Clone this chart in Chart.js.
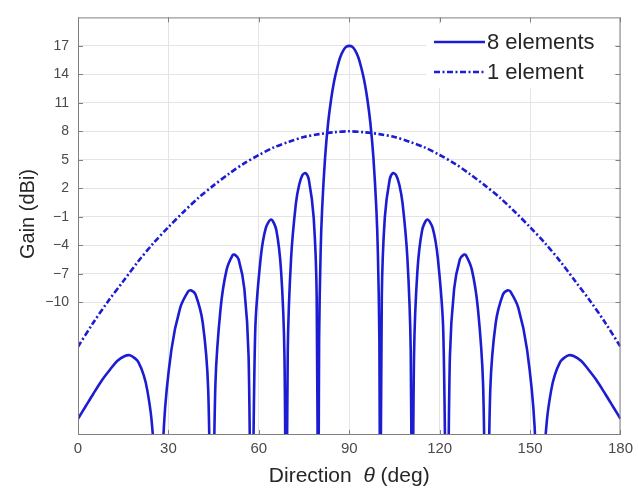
<!DOCTYPE html>
<html lang="en">
<head>
  <meta charset="UTF-8" />
  <title>Gain vs Direction</title>
  <script src="https://cdn.jsdelivr.net/npm/chart.js"></script>
  <style>
    html, body { margin: 0; padding: 0; background: #fff; }
    #wrap { width: 638px; height: 498px; }
  </style>
</head>
<body>
  <div id="wrap"><canvas id="gainChart" width="638" height="498"></canvas></div>

  <script>
    // 8 element array, direction in deg / gain in dBi.
    // nulls are put well under the axis floor (-40) so the trace runs off the bottom
    const angles8 = [
      0, 2.5, 5, 8, 10.9, 13, 15.4, 17.2, 18.8, 20, 21.8, 23, 24.4, 25.6, 26.8,
      28.5, 31, 33.9, 36.5, 37.4, 39, 41.4, 43.2, 44.4,
      45.6, 47.3, 49.3, 51.3, 52, 53.3, 55.2, 56.6, 57.6,
      58.8, 60.6, 62.3, 64.1, 65.8, 67.4, 68.5, 69.1,
      69.6, 70.7, 72.3, 73.4, 74.5, 75.5, 76.6, 78.2, 79.2, 79.7,
      80, 80.5, 81, 82, 83, 84, 85, 86, 87, 88, 89, 90,
      91, 92, 93, 94, 95, 96, 97, 98, 99, 99.5, 100,
      100.3, 100.8, 101.8, 103.4, 104.5, 105.5, 106.6, 107.7, 109.3, 110.4,
      110.9, 111.5, 112.6, 114.2, 115.9, 117.7, 119.4, 121.2,
      122.4, 123.4, 124.8, 126.7, 128, 128.7, 130.7, 132.7, 134.4,
      135.6, 136.8, 138.6, 141, 142.6, 143.5, 146.1, 149, 151.5,
      153.2, 154.4, 155.6, 157, 158.2, 160, 161.2, 162.8, 164.6, 167, 169.1, 172, 175, 177.5, 180
    ];
    const gain8 = [
      -22.3, -21.0, -19.7, -18.2, -17.0, -16.2, -15.7, -15.6, -15.9, -16.3, -17.7, -19.3, -22.4, -28.0, -40,
      -23.1, -15.0, -10.6, -8.9, -8.75, -9.2, -12.2, -19.2, -40,
      -18.6, -10.7, -6.6, -5.05, -5.0, -5.5, -8.6, -15.7, -40,
      -13.1, -5.4, -2.2, -1.3, -2.4, -6.8, -15.6, -40,
      -15.1, -5.4, 0.4, 2.4, 3.4, 3.6, 2.9, -1.1, -9.5, -40,
      -14.0, -4.8, -0.2, 5.3, 8.9, 11.4, 13.3, 14.7, 15.8, 16.5, 16.9, 17.0,
      16.9, 16.5, 15.8, 14.7, 13.3, 11.4, 8.9, 5.3, -0.2, -4.8, -14.0,
      -40, -9.5, -1.1, 2.9, 3.6, 3.4, 2.4, 0.4, -5.4, -15.1,
      -40, -15.6, -6.8, -2.4, -1.3, -2.2, -5.4, -13.1,
      -40, -15.7, -8.6, -5.5, -5.0, -5.05, -6.6, -10.7, -18.6,
      -40, -19.2, -12.2, -9.2, -8.75, -8.9, -10.6, -15.0, -23.1,
      -40, -28.0, -22.4, -19.3, -17.7, -16.3, -15.9, -15.6, -15.7, -16.2, -17.0, -18.2, -19.7, -21.0, -22.3
    ];

    // single element
    const angles1 = [0, 5, 10, 15, 20, 25, 30, 35, 40, 45, 50, 55, 60, 65, 70, 75, 80, 85, 90,
      95, 100, 105, 110, 115, 120, 125, 130, 135, 140, 145, 150, 155, 160, 165, 170, 175, 180];
    const gain1 = [-14.7, -12.2, -9.9, -7.8, -5.7, -3.8, -2.1, -0.5, 1.0, 2.3, 3.5, 4.6, 5.5, 6.3, 6.9, 7.4, 7.7, 7.9, 8.0,
      7.9, 7.7, 7.4, 6.9, 6.3, 5.5, 4.6, 3.5, 2.3, 1.0, -0.5, -2.1, -3.8, -5.7, -7.8, -9.9, -12.2, -14.7];

    const seriesNames = ["8 elements", "1 element"];
    const xTicks = [0, 30, 60, 90, 120, 150, 180];
    const yTicks = [-10, -7, -4, -1, 2, 5, 8, 11, 14, 17];

    const BLUE = "#1c1cd2";
    const FONT = "'Liberation Sans', Arial, Helvetica, sans-serif";
    const DASH = [6, 2.5, 2, 2.5];

    function toPoints(xs, ys) {
      return xs.map((v, i) => ({ x: v, y: ys[i] }));
    }

    // MATLAB-ish box: border, inward ticks, legend, axis titles
    const matlabFrame = {
      id: "matlabFrame",
      afterDatasetsDraw(chart) {
        const { ctx, chartArea: a, scales } = chart;
        const x = scales.x, y = scales.y;
        ctx.save();
        ctx.strokeStyle = "#808080";
        ctx.lineWidth = 1;
        ctx.beginPath();
        xTicks.forEach(v => {
          const px = Math.round(x.getPixelForValue(v)) + 0.5;
          ctx.moveTo(px, a.bottom); ctx.lineTo(px, a.bottom - 5);
          ctx.moveTo(px, a.top); ctx.lineTo(px, a.top + 5);
        });
        yTicks.forEach(v => {
          const py = Math.round(y.getPixelForValue(v)) + 0.5;
          ctx.moveTo(a.left, py); ctx.lineTo(a.left + 5, py);
          ctx.moveTo(a.right, py); ctx.lineTo(a.right - 5, py);
        });
        ctx.stroke();
        ctx.strokeRect(a.left + 0.5, a.top + 0.5, a.right - a.left - 1, a.bottom - a.top - 1);

        // legend, no frame
        ctx.fillStyle = "#fff";
        ctx.fillRect(426, 24, 188, 64);
        const rows = [{ y: 42, dash: [] }, { y: 72, dash: DASH }];
        rows.forEach((r, i) => {
          ctx.strokeStyle = BLUE;
          ctx.lineWidth = 2.6;
          ctx.setLineDash(r.dash);
          ctx.beginPath();
          ctx.moveTo(434, r.y); ctx.lineTo(485, r.y);
          ctx.stroke();
          ctx.setLineDash([]);
          ctx.fillStyle = "#262626";
          ctx.font = "22px " + FONT;
          ctx.textBaseline = "middle";
          ctx.textAlign = "left";
          ctx.fillText(seriesNames[i], 487, r.y + 1);
        });
        ctx.restore();
      },
      afterDraw(chart) {
        const { ctx, chartArea: a } = chart;
        ctx.save();
        ctx.fillStyle = "#262626";
        ctx.textBaseline = "middle";
        // x title with italic theta
        const parts = [["Direction  ", "21px "], ["\u03b8", "italic 21px "], [" (deg)", "21px "]];
        let total = 0;
        parts.forEach(p => { ctx.font = p[1] + FONT; total += ctx.measureText(p[0]).width; });
        let cx = (a.left + a.right) / 2 - total / 2;
        ctx.textAlign = "left";
        parts.forEach(p => {
          ctx.font = p[1] + FONT;
          ctx.fillText(p[0], cx, 476);
          cx += ctx.measureText(p[0]).width;
        });
        // y title
        ctx.translate(28, 214);
        ctx.rotate(-Math.PI / 2);
        ctx.textAlign = "center";
        ctx.font = "20px " + FONT;
        ctx.fillText("Gain (dBi)", 0, 0);
        ctx.restore();
      }
    };

    const ctx = document.getElementById("gainChart").getContext("2d");
    const chart = new Chart(ctx, {
      type: "line",
      data: {
        datasets: [
          {
            label: seriesNames[0],
            data: toPoints(angles8, gain8),
            borderColor: BLUE,
            borderWidth: 2.6,
            pointRadius: 0,
            tension: 0.3,
            fill: false
          },
          {
            label: seriesNames[1],
            data: toPoints(angles1, gain1),
            borderColor: BLUE,
            borderWidth: 2.6,
            borderDash: DASH,
            pointRadius: 0,
            tension: 0.3,
            fill: false
          }
        ]
      },
      options: {
        responsive: false,
        animation: false,
        devicePixelRatio: 1,
        layout: { padding: { top: 10, right: 15, left: 0, bottom: 0 } },
        plugins: { legend: { display: false }, tooltip: { enabled: false } },
        scales: {
          x: {
            type: "linear",
            min: 0,
            max: 180,
            afterBuildTicks: s => { s.ticks = xTicks.map(v => ({ value: v })); },
            afterFit: s => { s.height = 63; },
            grid: { color: "#e4e4e4", drawTicks: false },
            border: { display: false },
            ticks: { padding: 5, color: "#4a4a4a", maxRotation: 0, font: { family: FONT, size: 15 } }
          },
          y: {
            type: "linear",
            min: -24,
            max: 20,
            afterBuildTicks: s => { s.ticks = yTicks.map(v => ({ value: v })); },
            afterFit: s => { s.width = 78; },
            grid: { color: "#e4e4e4", drawTicks: false },
            border: { display: false },
            ticks: {
              padding: 9,
              color: "#4a4a4a",
              font: { family: FONT, size: 14 },
              callback: v => String(v).replace("-", "\u2212")
            }
          }
        }
      },
      plugins: [matlabFrame]
    });
  </script>
</body>
</html>
